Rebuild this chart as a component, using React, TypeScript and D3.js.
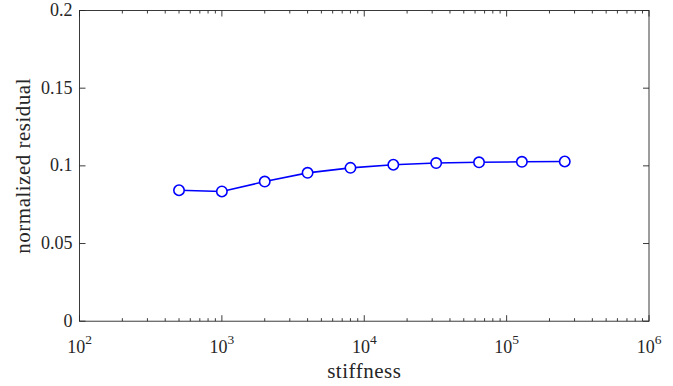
import React, { useEffect, useRef } from "react";
import * as d3 from "d3";

// stiffness values (x) and normalized residual (y)
const stiffness = [500, 1000, 2000, 4000, 8000, 16000, 32000, 64000, 128000, 256000];
const residual = [0.0843, 0.0835, 0.0899, 0.0955, 0.0987, 0.1007, 0.1018, 0.1023, 0.1026, 0.1028];
const xDecades = [2, 3, 4, 5, 6];
const yTicks = [0, 0.05, 0.1, 0.15, 0.2];
const yTickLabels = ["0", "0.05", "0.1", "0.15", "0.2"];

const W = 673;
const H = 386;
const margin = { top: 10.5, right: 24, bottom: 65, left: 79.5 };
const font = "'Liberation Serif', serif";

const App = () => {
  const ref = useRef<SVGSVGElement>(null);

  useEffect(() => {
    const svg = d3.select(ref.current);
    svg.html("");
    const x = d3.scaleLog().domain([1e2, 1e6]).range([margin.left, W - margin.right]);
    const y = d3.scaleLinear().domain([0, 0.2]).range([H - margin.bottom + 0.2, margin.top]);
    const x0 = x.range()[0];
    const x1 = x.range()[1];
    const y0 = y.range()[0];
    const y1 = y.range()[1];
    const axisColor = "#262626";

    // frame
    svg
      .append("rect")
      .attr("x", x0)
      .attr("y", y1)
      .attr("width", x1 - x0)
      .attr("height", y0 - y1)
      .attr("fill", "none")
      .attr("stroke", axisColor)
      .attr("stroke-width", 0.9);

    // x ticks (major + minor), bottom and top, pointing inward
    const minor: number[] = [];
    xDecades.slice(0, -1).forEach((e) => {
      for (let m = 2; m <= 9; m++) minor.push(m * Math.pow(10, e));
    });
    const g = svg.append("g").attr("stroke", axisColor).attr("stroke-width", 0.9);
    xDecades.forEach((e) => {
      const px = x(Math.pow(10, e));
      g.append("line").attr("x1", px).attr("x2", px).attr("y1", y0).attr("y2", y0 - 6);
      g.append("line").attr("x1", px).attr("x2", px).attr("y1", y1).attr("y2", y1 + 6);
    });
    minor.forEach((v) => {
      const px = x(v);
      g.append("line").attr("x1", px).attr("x2", px).attr("y1", y0).attr("y2", y0 - 3);
      g.append("line").attr("x1", px).attr("x2", px).attr("y1", y1).attr("y2", y1 + 3);
    });
    yTicks.forEach((v) => {
      const py = y(v);
      g.append("line").attr("x1", x0).attr("x2", x0 + 6).attr("y1", py).attr("y2", py);
      g.append("line").attr("x1", x1).attr("x2", x1 - 6).attr("y1", py).attr("y2", py);
    });

    // x tick labels 10^n
    xDecades.forEach((e) => {
      const t = svg
        .append("text")
        .attr("x", x(Math.pow(10, e)))
        .attr("y", y0 + 32)
        .attr("text-anchor", "middle")
        .attr("font-family", font)
        .attr("font-size", 18)
        .attr("fill", axisColor);
      t.append("tspan").text("10");
      t.append("tspan").attr("dy", -9).attr("font-size", 13.5).text(String(e));
    });

    // y tick labels
    yTicks.forEach((v, i) => {
      svg
        .append("text")
        .attr("x", x0 - 7)
        .attr("y", y(v) + 5.5)
        .attr("text-anchor", "end")
        .attr("font-family", font)
        .attr("font-size", 18)
        .attr("fill", axisColor)
        .text(yTickLabels[i]);
    });

    // axis titles
    svg
      .append("text")
      .attr("x", (x0 + x1) / 2)
      .attr("y", H - 8)
      .attr("text-anchor", "middle")
      .attr("font-family", font)
      .attr("font-size", 21)
      .attr("letter-spacing", 0.5)
      .attr("fill", axisColor)
      .text("stiffness");
    svg
      .append("text")
      .attr("transform", `translate(30,${(y0 + y1) / 2}) rotate(-90)`)
      .attr("text-anchor", "middle")
      .attr("font-family", font)
      .attr("font-size", 21)
      .attr("letter-spacing", 0.5)
      .attr("fill", axisColor)
      .text("normalized residual");

    // data line + markers
    const data = stiffness.map((s, i) => ({ s, r: residual[i] }));
    const line = d3
      .line<{ s: number; r: number }>()
      .x((d) => x(d.s))
      .y((d) => y(d.r));
    svg
      .append("path")
      .datum(data)
      .attr("d", line)
      .attr("fill", "none")
      .attr("stroke", "#0000ff")
      .attr("stroke-width", 1.6);
    svg
      .selectAll("circle.pt")
      .data(data)
      .join("circle")
      .attr("class", "pt")
      .attr("cx", (d) => x(d.s))
      .attr("cy", (d) => y(d.r))
      .attr("r", 5.2)
      .attr("fill", "white")
      .attr("stroke", "#0000ff")
      .attr("stroke-width", 1.6);
  }, []);

  return (
    <div style={{ position: "absolute", left: 0, top: 0 }}>
      <svg ref={ref} width={W} height={H} style={{ display: "block", background: "white" }} />
    </div>
  );
};

export default App;
